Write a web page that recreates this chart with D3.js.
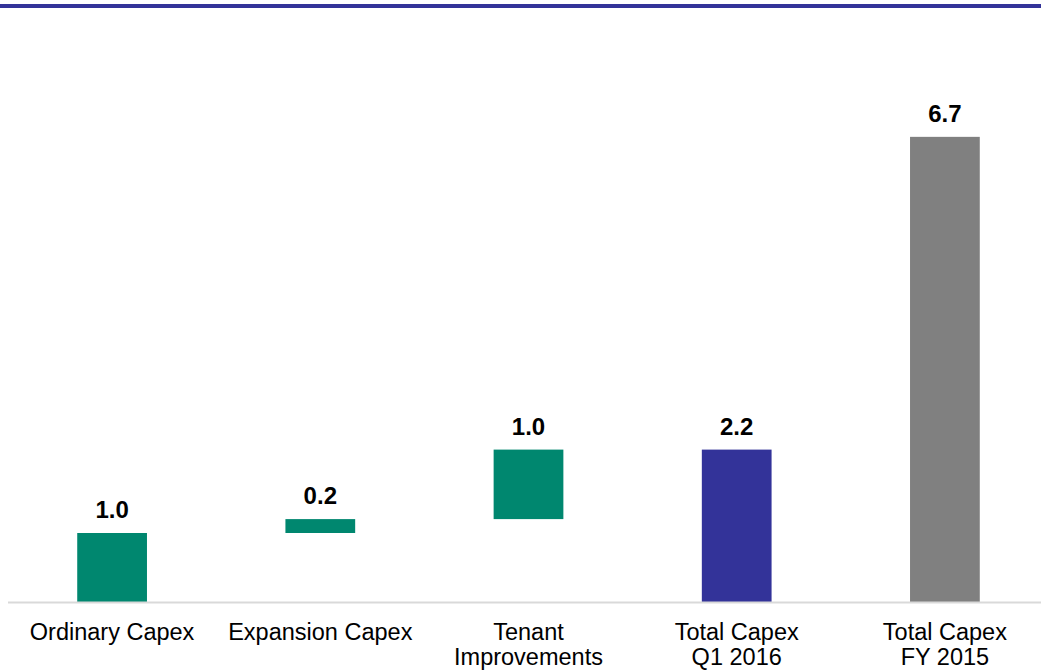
<!DOCTYPE html>
<html>
<head>
<meta charset="utf-8">
<script src="https://cdn.jsdelivr.net/npm/d3@7"></script>
<style>
  html, body { margin: 0; padding: 0; background: #fff; }
  svg { display: block; }
</style>
</head>
<body>
<svg id="chart" width="1041" height="671"></svg>
<script>
// Capex breakdown, EUR m
const categories = ["Ordinary Capex", "Expansion Capex", "Tenant Improvements", "Total Capex Q1 2016", "Total Capex FY 2015"];
const labelLines = [["Ordinary Capex"], ["Expansion Capex"], ["Tenant", "Improvements"], ["Total Capex", "Q1 2016"], ["Total Capex", "FY 2015"]];
const values = [1.0, 0.2, 1.0, 2.2, 6.7];
const kinds = ["step", "step", "step", "total", "total"];
const valueLabels = ["1.0", "0.2", "1.0", "2.2", "6.7"];

const colors = { step: "#00876f", q1: "#333399", fy: "#808080" };

const svg = d3.select("#chart");
const W = 1041, H = 671;

// header rule
svg.append("rect").attr("x", 0).attr("y", 4).attr("width", W).attr("height", 4).attr("fill", "#333399");

const x = d3.scaleBand().domain(categories).range([8, 1049]).paddingInner(0.665).paddingOuter(0.3325);
const y = d3.scaleLinear().domain([0, 8]).range([602.5, 46.5]);

// floating segments: steps stack on the running sum, totals start at zero
let running = 0;
const bars = categories.map((c, i) => {
  let lo, hi;
  if (kinds[i] === "step") { lo = running; hi = running + values[i]; running = hi; }
  else { lo = 0; hi = values[i]; }
  const fill = kinds[i] === "step" ? colors.step : (i === 3 ? colors.q1 : colors.fy);
  return { c, lo, hi, fill, label: valueLabels[i], lines: labelLines[i] };
});

svg.append("g").selectAll("rect").data(bars).join("rect")
  .attr("x", d => x(d.c))
  .attr("width", x.bandwidth())
  .attr("y", d => y(d.hi))
  .attr("height", d => y(d.lo) - y(d.hi))
  .attr("fill", d => d.fill);

// baseline axis
const axis = svg.append("g").attr("transform", `translate(0,${y(0)})`)
  .call(d3.axisBottom(x).tickSize(0).tickFormat(""));
axis.select(".domain").attr("stroke", "#d9d9d9").attr("stroke-width", 2).attr("d", `M8,0H${W}`);

// value labels
svg.append("g").selectAll("text").data(bars).join("text")
  .attr("x", d => x(d.c) + x.bandwidth() / 2)
  .attr("y", d => y(d.hi) - 15)
  .attr("text-anchor", "middle")
  .attr("font-family", "Liberation Sans, Arial, sans-serif")
  .attr("font-weight", "bold")
  .attr("font-size", 24)
  .attr("fill", "#000")
  .text(d => d.label);

// category labels
const cat = svg.append("g").selectAll("text").data(bars).join("text")
  .attr("x", d => x(d.c) + x.bandwidth() / 2)
  .attr("y", 640)
  .attr("text-anchor", "middle")
  .attr("font-family", "Liberation Sans, Arial, sans-serif")
  .attr("font-size", 23.5)
  .attr("fill", "#000");
cat.selectAll("tspan").data(d => d.lines.map(t => ({ t, xc: x(d.c) + x.bandwidth() / 2 }))).join("tspan")
  .attr("x", d => d.xc)
  .attr("dy", (d, i) => i === 0 ? 0 : 25)
  .text(d => d.t);
</script>
</body>
</html>
